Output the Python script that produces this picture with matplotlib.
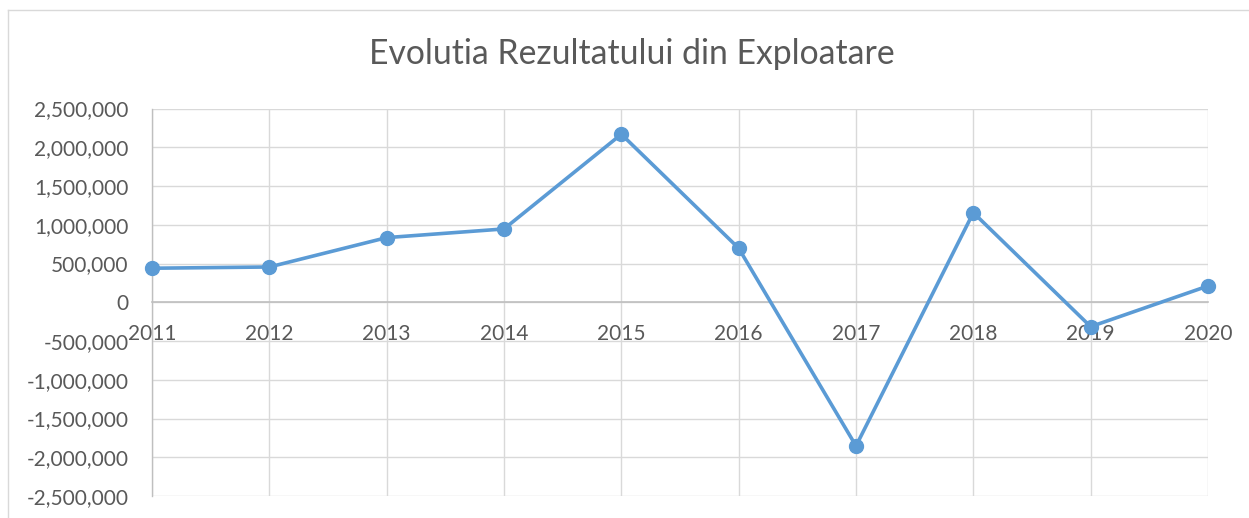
import matplotlib
matplotlib.use("Agg")
import matplotlib.pyplot as plt
import matplotlib.ticker as mticker
from matplotlib.lines import Line2D
import numpy as np

# Data
years = ["2011", "2012", "2013", "2014", "2015", "2016", "2017", "2018", "2019", "2020"]
rezultat = [439000, 455000, 834000, 946000, 2168000, 697000, -1854000, 1156000, -315000, 210000]
y_ticks = [-2500000, -2000000, -1500000, -1000000, -500000, 0,
           500000, 1000000, 1500000, 2000000, 2500000]
title = "Evolutia Rezultatului din Exploatare"

#-------------------------------------------------------------------------------

def main():
  plt.rcParams['font.family'] = ['Lato', 'DejaVu Sans']
  text_col = "#595959"
  W, H = 1249, 518

  fig = plt.figure(figsize=(W/100, H/100), dpi=100)
  ax = fig.add_axes([152/W, 1-496/H, (1208-152)/W, (496-108.5)/H])

  x = np.arange(len(years))
  ax.plot(x, rezultat, color="#5B9BD5", lw=2.6, marker="o", ms=10,
          solid_joinstyle="round", zorder=3, clip_on=False)

  ax.set_xlim(0, len(years)-1)
  ax.set_ylim(y_ticks[0], y_ticks[-1])
  ax.set_yticks(y_ticks)
  ax.yaxis.set_major_formatter(mticker.FuncFormatter(lambda v, p: "{:,.0f}".format(v)))
  ax.set_xticks(x)
  ax.set_xticklabels(years)

  # Excel style: category labels hang off the zero line
  ax.spines['bottom'].set_position(('data', 0))
  ax.spines['bottom'].set_color("#BFBFBF")
  ax.spines['bottom'].set_linewidth(1.2)
  ax.spines['left'].set_color("#BFBFBF")
  ax.spines['left'].set_linewidth(1.0)
  ax.spines['top'].set_visible(False)
  ax.spines['right'].set_visible(False)

  ax.grid(True, color="#D9D9D9", lw=1.0, zorder=0)
  ax.set_axisbelow(True)
  ax.tick_params(axis='both', length=0, labelsize=15, labelcolor=text_col)
  ax.tick_params(axis='x', pad=16)
  ax.tick_params(axis='y', pad=17)

  fig.text(632/W, 1-64/H, title, ha="center", va="baseline", fontsize=24.3, color=text_col)

  # Chart area border (only left and top visible in the crop)
  fig.add_artist(Line2D([8/W, 8/W], [0, 1-10/H], transform=fig.transFigure, color="#D9D9D9", lw=1))
  fig.add_artist(Line2D([8/W, 1], [1-10/H, 1-10/H], transform=fig.transFigure, color="#D9D9D9", lw=1))

  fig.savefig("out.png", dpi=100)
  plt.close(fig)

if __name__ == "__main__":
  main()
